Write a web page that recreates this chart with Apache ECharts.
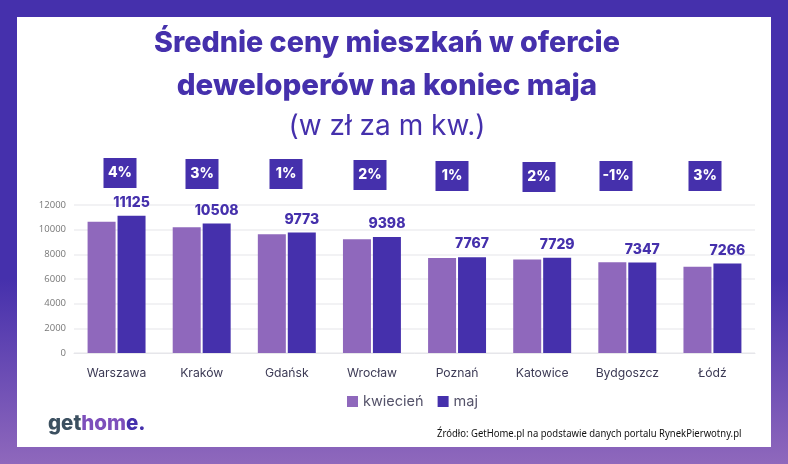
<!DOCTYPE html>
<html>
<head>
<meta charset="utf-8">
<style>
  html, body { margin: 0; padding: 0; }
  #main { width: 788px; height: 464px; }
</style>
<script src="https://cdn.jsdelivr.net/npm/echarts@6/dist/echarts.min.js"></script>
</head>
<body>
<div id="main"></div>
<script>
var cities = ['Warszawa', 'Kraków', 'Gdańsk', 'Wrocław', 'Poznań', 'Katowice', 'Bydgoszcz', 'Łódź'];
var april = [10650, 10195, 9627, 9223, 7712, 7578, 7362, 6985];
var may = [11125, 10508, 9773, 9398, 7767, 7729, 7347, 7266];
var changes = ['4%', '3%', '1%', '2%', '1%', '2%', '-1%', '3%'];

var boxX = [120, 202, 286, 370, 452, 539, 616, 705];
var boxY = [173, 174, 174, 175, 176, 177, 176, 176];

var dark = '#4530ac';
var light = '#8f68bc';
var font = 'Inter';

var chart = echarts.init(document.getElementById('main'));

var graphics = [
    { type: 'rect', z: -10, shape: { x: 17, y: 17, width: 754, height: 430 }, style: { fill: '#fff' } },
    { type: 'text', x: 387, y: 43, style: { text: 'Średnie ceny mieszkań w ofercie', font: '800 28.7px ' + font, fill: dark, align: 'center', verticalAlign: 'middle' } },
    { type: 'text', x: 387, y: 86, style: { text: 'deweloperów na koniec maja', font: '800 29.5px ' + font, fill: dark, align: 'center', verticalAlign: 'middle' } },
    { type: 'text', x: 387, y: 127, style: { text: '(w zł za m kw.)', font: '400 28px ' + font, fill: dark, align: 'center', verticalAlign: 'middle' } },
    {
        type: 'text', x: 48, y: 424,
        style: {
            text: '{a|get}{b|hom}{c|e.}',
            verticalAlign: 'middle',
            rich: {
                a: { font: '800 20.5px ' + font, fill: '#3c5060' },
                b: { font: '800 20.5px ' + font, fill: '#7d4fbb' },
                c: { font: '800 20.5px ' + font, fill: dark }
            }
        }
    },
    { type: 'text', x: 437, y: 434, scaleX: 0.905, style: { text: 'Źródło: GetHome.pl na podstawie danych portalu RynekPierwotny.pl', font: '400 10.5px "Noto Sans"', fill: '#111', verticalAlign: 'middle' } }
];

// kwadraty ze zmiana procentowa
for (var i = 0; i < changes.length; i++) {
    graphics.push({
        type: 'rect',
        shape: { x: boxX[i] - 16.5, y: boxY[i] - 15, width: 33, height: 30 },
        style: { fill: dark }
    });
    graphics.push({
        type: 'text', z: 10, x: boxX[i], y: boxY[i],
        style: { text: changes[i], font: '800 14px ' + font, fill: '#fff', align: 'center', verticalAlign: 'middle' }
    });
}

chart.setOption({
    animation: false,
    backgroundColor: {
        type: 'linear', x: 0, y: 0, x2: 0, y2: 1,
        colorStops: [{ offset: 0, color: dark }, { offset: 0.6, color: dark }, { offset: 1, color: light }]
    },
    graphic: graphics,
    grid: { left: 74, right: 33, top: 205, bottom: 111, containLabel: false },
    legend: {
        data: ['kwiecień', 'maj'],
        left: 342, top: 389,
        itemWidth: 11, itemHeight: 11, itemGap: 14,
        icon: 'rect',
        textStyle: { fontFamily: font, fontSize: 14.5, color: '#55536a' }
    },
    xAxis: {
        type: 'category',
        data: cities,
        axisTick: { show: false },
        axisLine: { lineStyle: { color: '#e6e6ea' } },
        axisLabel: { fontFamily: font, fontSize: 12.2, color: '#3c3a55', margin: 14 }
    },
    yAxis: {
        type: 'value',
        min: 0, max: 12000, interval: 2000,
        axisLine: { show: false },
        axisTick: { show: false },
        axisLabel: {
            fontFamily: 'Open Sans', fontSize: 9.5, color: '#777', margin: 8,
            formatter: function (v) { return String(v); }
        },
        splitLine: { lineStyle: { color: '#eeeef0', width: 1.5 } }
    },
    series: [
        { name: 'kwiecień', type: 'bar', data: april, barWidth: 28, barGap: '7%', itemStyle: { color: light } },
        {
            name: 'maj', type: 'bar', data: may, barWidth: 28, itemStyle: { color: dark },
            label: { show: true, position: 'top', distance: 6, fontFamily: font, fontWeight: 800, fontSize: 14, color: dark }
        }
    ]
});
</script>
</body>
</html>
